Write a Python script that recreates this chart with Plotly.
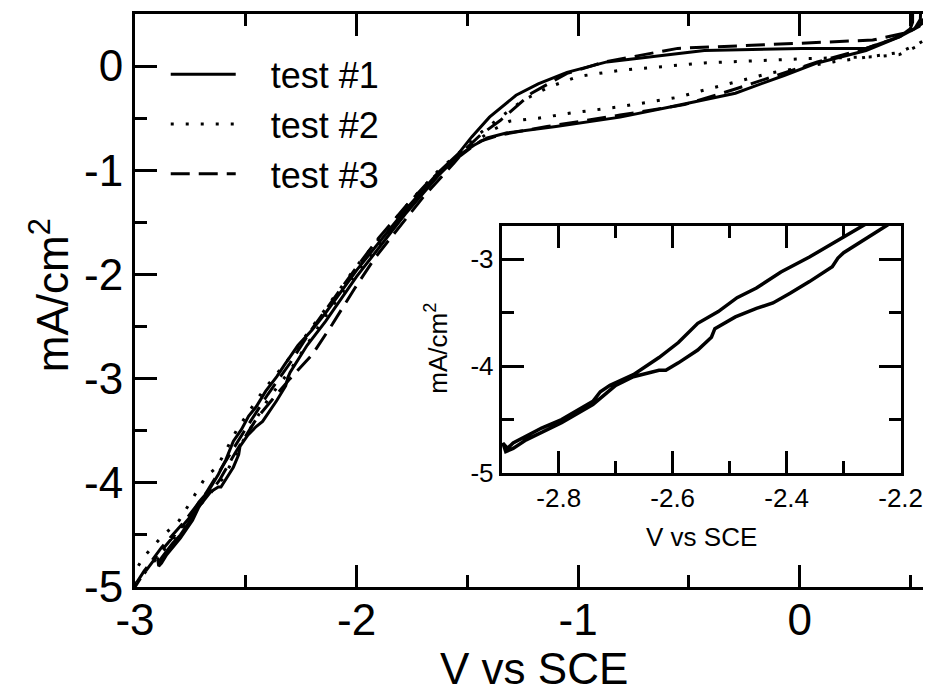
import plotly.graph_objects as go

# ---------------- data ----------------
# test #1 (solid): cyclic sweep, upper branch leftwards then return branch
t1_x = [0.51, 0.51, 0.50, 0.45, 0.30, 0.01, -0.43, -0.87, -1.05, -1.18, -1.28, -1.40, -1.48, -1.54,
        -1.63, -1.78, -2.00, -2.14, -2.20, -2.264, -2.326, -2.36, -2.41, -2.453, -2.487, -2.52, -2.556,
        -2.59, -2.624, -2.65, -2.669, -2.71, -2.727, -2.74, -2.76, -2.795, -2.83, -2.857, -2.88, -2.89,
        -2.898, -2.893, -2.88, -2.857, -2.795, -2.74, -2.72, -2.70, -2.669, -2.624, -2.612, -2.59,
        -2.556, -2.532, -2.526, -2.49, -2.453, -2.424, -2.394, -2.36, -2.32, -2.31, -2.30, -2.257,
        -2.223, -2.14, -2.00, -1.78, -1.63, -1.54, -1.47, -1.41, -1.32, -1.10, -0.81, -0.58, -0.29,
        -0.07, 0.08, 0.30, 0.45, 0.52, 0.545, 0.55]
t1_y = [0.75, 0.42, 0.36, 0.28, 0.17, 0.17, 0.15, 0.04, -0.06, -0.17, -0.28, -0.49, -0.68, -0.84,
        -1.02, -1.38, -1.96, -2.37, -2.53, -2.68, -2.87, -2.98, -3.12, -3.27, -3.36, -3.49, -3.60,
        -3.78, -3.92, -4.01, -4.08, -4.18, -4.24, -4.33, -4.39, -4.50, -4.58, -4.66, -4.72, -4.77,
        -4.72, -4.80, -4.77, -4.69, -4.53, -4.36, -4.27, -4.18, -4.10, -4.04, -4.04, -3.97,
        -3.85, -3.73, -3.65, -3.54, -3.46, -3.41, -3.32, -3.21, -3.07, -2.99, -2.94, -2.80,
        -2.68, -2.45, -2.02, -1.42, -1.05, -0.86, -0.76, -0.69, -0.64, -0.58, -0.49, -0.39, -0.26,
        -0.09, 0.03, 0.15, 0.28, 0.36, 0.45, 0.75]

# test #2 (dotted)
t2_x = [0.58, 0.54, 0.45, 0.35, 0.01, -0.43, -0.81, -1.00, -1.13, -1.25, -1.35, -1.44, -1.52, -1.63,
        -1.78, -2.00, -2.14, -2.32, -2.42, -2.46, -2.54, -2.63, -2.68, -2.80, -2.88, -2.96, -3.00,
        -3.02, -2.97, -2.90, -2.80, -2.70, -2.60, -2.50, -2.40, -2.30, -2.14, -2.00, -1.78, -1.63,
        -1.52, -1.40, -1.31, -1.18, -1.03, -0.81, -0.55, -0.43, -0.14, 0.15, 0.45, 0.54, 0.58]
t2_y = [0.25, 0.20, 0.11, 0.09, 0.07, 0.03, -0.04, -0.10, -0.20, -0.33, -0.49, -0.64, -0.80, -1.00,
        -1.35, -1.92, -2.33, -2.85, -3.11, -3.24, -3.49, -3.85, -3.94, -4.36, -4.52, -4.71, -4.85,
        -5.00, -4.90, -4.72, -4.47, -4.20, -3.95, -3.55, -3.20, -2.92, -2.40, -1.98, -1.40, -1.04,
        -0.82, -0.63, -0.53, -0.50, -0.45, -0.39, -0.30, -0.23, -0.07, 0.04, 0.13, 0.22, 0.27]

# test #3 (dashed)
t3_x = [0.58, 0.52, 0.48, 0.33, 0.01, -0.43, -0.55, -0.88, -1.05, -1.21, -1.35, -1.44, -1.50, -1.56,
        -1.70, -1.85, -1.92, -2.01, -2.11, -2.20, -2.30, -2.38, -2.45, -2.55, -2.62, -2.70, -2.80,
        -2.90, -2.97, -3.00, -3.02, -2.96, -2.88, -2.78, -2.68, -2.60, -2.50, -2.40, -2.30, -2.20,
        -2.10, -2.00, -1.90, -1.78, -1.68, -1.60, -1.50, -1.44, -1.35, -1.14, -0.81, -0.52, -0.29,
        0.08, 0.30, 0.45, 0.54, 0.57, 0.58]
t3_y = [0.45, 0.36, 0.32, 0.25, 0.22, 0.18, 0.17, 0.04, -0.07, -0.26, -0.52, -0.66, -0.78, -0.93,
        -1.26, -1.66, -1.85, -2.14, -2.48, -2.77, -3.00, -3.20, -3.38, -3.72, -3.98, -4.20, -4.45,
        -4.70, -4.90, -5.00, -5.05, -4.85, -4.62, -4.38, -4.10, -3.82, -3.48, -3.15, -2.85, -2.52,
        -2.22, -1.93, -1.65, -1.35, -1.12, -0.97, -0.81, -0.72, -0.66, -0.58, -0.47, -0.37, -0.22,
        0.04, 0.17, 0.28, 0.38, 0.50, 0.70]

series_names = ["test #1", "test #2", "test #3"]

x_tickvals = [-3, -2, -1, 0]
x_ticktext = ["-3", "-2", "-1", "0"]
x_minor = [-2.5, -1.5, -0.5, 0.5]
y_tickvals = [-5, -4, -3, -2, -1, 0]
y_ticktext = ["-5", "-4", "-3", "-2", "-1", "0"]
y_minor = [-4.5, -3.5, -2.5, -1.5, -0.5]

ix_tickvals = [-2.8, -2.6, -2.4, -2.2]
ix_ticktext = ["-2.8", "-2.6", "-2.4", "-2.2"]
ix_minor = [-2.7, -2.5, -2.3]
iy_tickvals = [-5, -4, -3]
iy_ticktext = ["-5", "-4", "-3"]
iy_minor = [-4.5, -3.5]

# ---------------- figure ----------------
FONT = "Liberation Sans, Arial, Helvetica, sans-serif"
BLACK = "#000000"
LW = 3
PAD = "\u00a0\u00a0\u00a0"  # gap between legend sample and its label

fig = go.Figure()
fig.add_trace(go.Scatter(x=t1_x, y=t1_y, mode="lines", name=PAD + series_names[0],
                         line=dict(color=BLACK, width=LW, dash="solid")))
fig.add_trace(go.Scatter(x=t2_x, y=t2_y, mode="lines", name=PAD + series_names[1],
                         line=dict(color=BLACK, width=LW, dash="3px,12px")))
fig.add_trace(go.Scatter(x=t3_x, y=t3_y, mode="lines", name=PAD + series_names[2],
                         line=dict(color=BLACK, width=LW, dash="19px,9px")))
# inset: test #1 zoomed
fig.add_trace(go.Scatter(x=t1_x, y=t1_y, mode="lines", showlegend=False,
                         xaxis="x2", yaxis="y2",
                         line=dict(color=BLACK, width=3.5)))

ax_common = dict(showline=True, linecolor=BLACK, linewidth=3,
                 ticks="inside", tickcolor=BLACK, tickwidth=3, showgrid=False,
                 zeroline=False, tickmode="array")

fig.update_layout(
    width=945, height=695, autosize=False,
    margin=dict(l=135, r=0, t=14, b=108),
    paper_bgcolor="white", plot_bgcolor="white",
    font=dict(family=FONT, color=BLACK),
    xaxis=dict(range=[-3, 0.557], domain=[0, 1], tickvals=x_tickvals, ticktext=x_ticktext,
               ticklen=22, tickfont=dict(size=44), mirror="ticks", ticklabelstandoff=-8,
               minor=dict(tickmode="array", tickvals=x_minor, ticklen=12, tickwidth=3,
                          tickcolor=BLACK, ticks="inside", showgrid=False),
               **ax_common),
    yaxis=dict(range=[-5, 0.5], domain=[0, 1], tickvals=y_tickvals, ticktext=y_ticktext,
               ticklen=22, tickfont=dict(size=44), mirror=False,
               minor=dict(tickmode="array", tickvals=y_minor, ticklen=12, tickwidth=3,
                          tickcolor=BLACK, ticks="inside", showgrid=False),
               **ax_common),
    # right-hand tick stubs of the main frame (its right edge lies just past the picture)
    yaxis3=dict(overlaying="y", side="right", anchor="x", matches="y",
                range=[-5, 0.5], showline=False, showgrid=False, zeroline=False,
                showticklabels=False, ticks="inside", tickmode="array",
                tickvals=y_tickvals, ticklen=12, tickwidth=3, tickcolor=BLACK,
                minor=dict(tickmode="array", tickvals=y_minor, ticklen=2, tickwidth=3,
                           tickcolor=BLACK, ticks="inside", showgrid=False)),
    xaxis2=dict(range=[-2.9, -2.2], domain=[0.4654, 0.9716], anchor="y2", mirror="ticks",
                tickvals=ix_tickvals, ticktext=ix_ticktext, ticklen=22,
                tickfont=dict(size=26),
                minor=dict(tickmode="array", tickvals=ix_minor, ticklen=12, tickwidth=3,
                           tickcolor=BLACK, ticks="inside", showgrid=False),
                **ax_common),
    yaxis2=dict(range=[-5, -2.69], domain=[0.199, 0.630], anchor="x2", mirror="ticks",
                tickvals=iy_tickvals, ticktext=iy_ticktext, ticklen=22,
                tickfont=dict(size=26),
                minor=dict(tickmode="array", tickvals=iy_minor, ticklen=12, tickwidth=3,
                           tickcolor=BLACK, ticks="inside", showgrid=False),
                **ax_common),
    legend=dict(x=0.039, y=0.947, xanchor="left", yanchor="top", bgcolor="rgba(0,0,0,0)",
                borderwidth=0, font=dict(size=36, family=FONT), itemwidth=65,
                tracegroupgap=0),
    showlegend=True,
    annotations=[
        dict(text="V vs SCE", xref="paper", yref="paper", x=0.506, y=-0.143,
             xanchor="center", yanchor="middle", showarrow=False, font=dict(size=44)),
        dict(text="mA/cm<sup>2</sup>", xref="paper", yref="paper", x=-0.1086, y=0.51,
             xanchor="center", yanchor="middle", textangle=-90, showarrow=False,
             font=dict(size=44)),
        dict(text="V vs SCE", xref="paper", yref="paper", x=0.7185, y=0.0873,
             xanchor="center", yanchor="middle", showarrow=False, font=dict(size=26)),
        dict(text="mA/cm<sup>2</sup>", xref="paper", yref="paper", x=0.3827, y=0.417,
             xanchor="center", yanchor="middle", textangle=-90, showarrow=False,
             font=dict(size=26)),
    ],
)

fig.write_html("out.html",
               post_script="document.body.style.overflow='hidden';"
                           "document.documentElement.style.overflow='hidden';")
